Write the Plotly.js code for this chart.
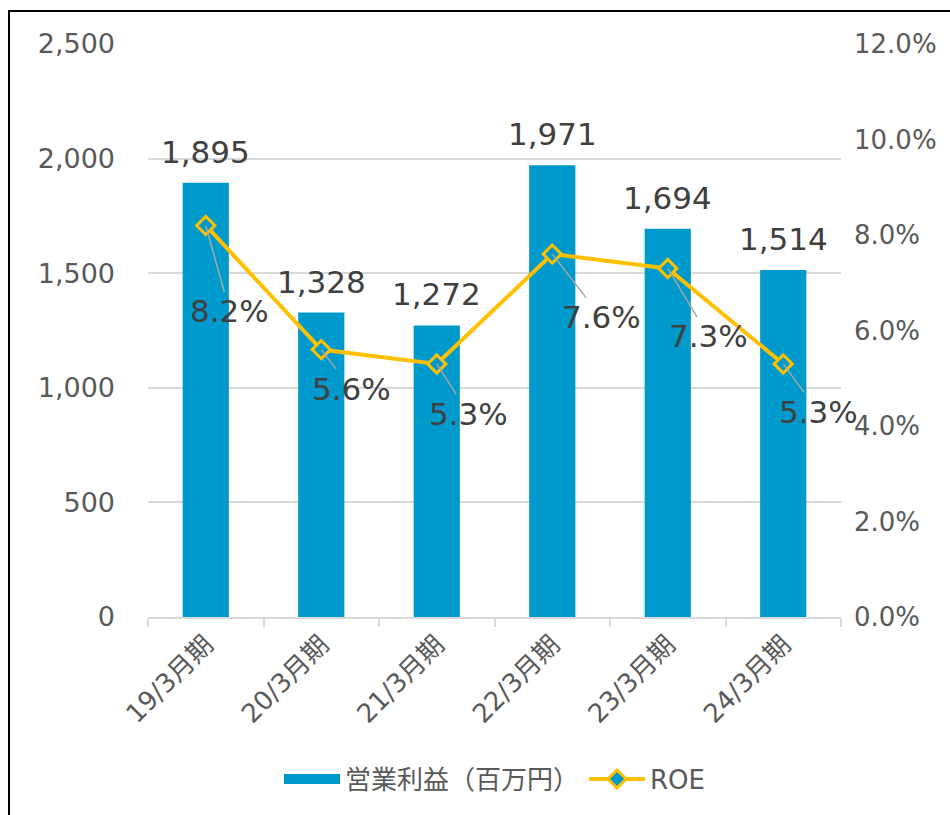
<!DOCTYPE html>
<html>
<head>
<meta charset="utf-8">
<script src="https://cdn.plot.ly/plotly-3.0.1.min.js"></script>
<style>
html,body{margin:0;padding:0;background:#fff;}
#wrap{position:relative;width:950px;height:815px;overflow:hidden;}
#frame{position:absolute;left:8px;top:10px;width:1000px;height:900px;border-left:2px solid #000;border-top:2px solid #000;pointer-events:none;z-index:5;}
#chart{position:absolute;left:0;top:0;width:950px;height:815px;}
</style>
</head>
<body>
<div id="wrap"><div id="chart"></div><div id="frame"></div></div>
<script>
const categories = ['19/3月期','20/3月期','21/3月期','22/3月期','23/3月期','24/3月期'];
const operatingProfit = [1895, 1328, 1272, 1971, 1694, 1514];
const roe = [8.2, 5.6, 5.3, 7.6, 7.3, 5.3];
const barName = '営業利益（百万円）';
const lineName = 'ROE';
// pixel offsets of ROE labels from their points
const roeLabelDx = [24, 30, 32, 49, 41, 35];
const roeLabelDy = [86, 39, 50, 63, 68, 48];

const FONT = '"DejaVu Sans", "Noto Sans CJK JP", sans-serif';
const BLUE = '#0099CC';
const GOLD = '#FFC000';

const bar = {
  type: 'bar', x: categories, y: operatingProfit, name: barName,
  marker: {color: BLUE}, width: 0.4, showlegend: false
};
// legend entry for the bars drawn as a wide block, as in the reference
const barLegend = {
  type: 'scatter', mode: 'lines', x: [null], y: [null], name: barName,
  line: {color: BLUE, width: 13}, showlegend: true, hoverinfo: 'skip'
};
const line = {
  type: 'scatter', mode: 'lines+markers', x: categories, y: roe, name: lineName,
  yaxis: 'y2', cliponaxis: false,
  line: {color: GOLD, width: 4},
  marker: {symbol: 'diamond', size: 14, color: BLUE, line: {color: GOLD, width: 3}}
};

const barLabels = operatingProfit.map((v, i) => ({
  x: categories[i], y: v, xref: 'x', yref: 'y',
  text: v.toLocaleString('en-US'), showarrow: false,
  yanchor: 'bottom', yshift: 11,
  font: {size: 31, color: '#404040', family: FONT}
}));
const roeLabels = roe.map((v, i) => ({
  x: categories[i], y: v, xref: 'x', yref: 'y2',
  text: v.toFixed(1) + '%',
  showarrow: true, arrowhead: 0, arrowwidth: 1.5, arrowcolor: '#A6A6A6',
  ax: roeLabelDx[i], ay: roeLabelDy[i],
  font: {size: 31, color: '#404040', family: FONT}
}));

const layout = {
  width: 950, height: 815,
  margin: {l: 148, r: 109, t: 44, b: 195},
  paper_bgcolor: '#fff', plot_bgcolor: '#fff',
  font: {family: FONT, color: '#595959'},
  showlegend: true,
  legend: {orientation: 'h', x: 0.5, xanchor: 'center', y: -0.283, yanchor: 'middle',
           font: {size: 26, color: '#595959', family: FONT}, itemwidth: 56,
           traceorder: 'normal'},
  xaxis: {
    type: 'category', range: [-0.5, 5.5], autorange: false,
    tickangle: -45, tickfont: {size: 26, color: '#595959'},
    showline: true, linecolor: '#D9D9D9', linewidth: 2,
    ticks: 'outside', tickson: 'boundaries', ticklen: 8, tickcolor: '#D9D9D9', tickwidth: 2,
    showgrid: false, fixedrange: true, automargin: false
  },
  yaxis: {
    range: [0, 2500], dtick: 500, tickformat: ',d',
    tickfont: {size: 27, color: '#595959'},
    gridcolor: '#D9D9D9', gridwidth: 2, zeroline: false,
    ticklabelstandoff: 32, fixedrange: true, automargin: false
  },
  yaxis2: {
    overlaying: 'y', side: 'right', range: [0, 12], dtick: 2,
    tickformat: '.1f', ticksuffix: '%',
    tickfont: {size: 26, color: '#595959'},
    showgrid: false, zeroline: false, ticklabelstandoff: 12, fixedrange: true, automargin: false
  },
  annotations: barLabels.concat(roeLabels)
};

Plotly.newPlot('chart', [bar, barLegend, line], layout, {displayModeBar: false, staticPlot: true});
</script>
</body>
</html>
